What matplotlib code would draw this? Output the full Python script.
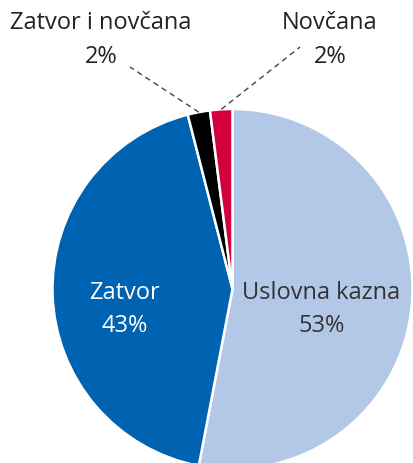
import numpy as np
import matplotlib.pyplot as plt

labels = ['Uslovna kazna', 'Zatvor', 'Zatvor i novčana', 'Novčana']
values = [53, 43, 2, 2]
colors = ['#b3c8e7', '#0063b1', '#000000', '#d4003d']

W, H = 413, 464
fig = plt.figure(figsize=(W / 100, H / 100), dpi=100)
ax = fig.add_axes([0, 0, 1, 1])

cx, cy, r = 232.5, H - 290, 180
wedges, _ = ax.pie(values, colors=colors, startangle=90, counterclock=False,
                   center=(cx, cy), radius=r, frame=True,
                   wedgeprops=dict(edgecolor='white', linewidth=1.8))
ax.set_xlim(0, W)
ax.set_ylim(0, H)
ax.set_aspect('equal')
ax.axis('off')

font = 'Open Sans'
fs = 17

# labels inside the two big slices
ax.text(124, H - 293, 'Zatvor', color='white', fontsize=fs, family=font, ha='center', va='center')
ax.text(125, H - 326, '43%', color='white', fontsize=fs, family=font, ha='center', va='center')
ax.text(321, H - 293, 'Uslovna kazna', color='#333333', fontsize=fs, family=font, ha='center', va='center')
ax.text(322, H - 326, '53%', color='#333333', fontsize=fs, family=font, ha='center', va='center')

# outside labels with dashed leaders
outside = {2: (101, 130, 68), 3: (330, 300, 48)}
for i, (tx, lx, ly) in outside.items():
    w = wedges[i]
    mid = np.deg2rad((w.theta1 + w.theta2) / 2)
    px, py = cx + r * np.cos(mid), cy + r * np.sin(mid)
    ax.plot([px, lx], [py, H - ly], color='#444444', lw=1, ls=(0, (4, 3)))
    ax.text(tx, H - 23, labels[i], color='#222222', fontsize=fs, family=font, ha='center', va='center')
    ax.text(tx, H - 57, f'{values[i]}%', color='#222222', fontsize=fs, family=font, ha='center', va='center')

fig.savefig('out.png', dpi=100, facecolor='white')
